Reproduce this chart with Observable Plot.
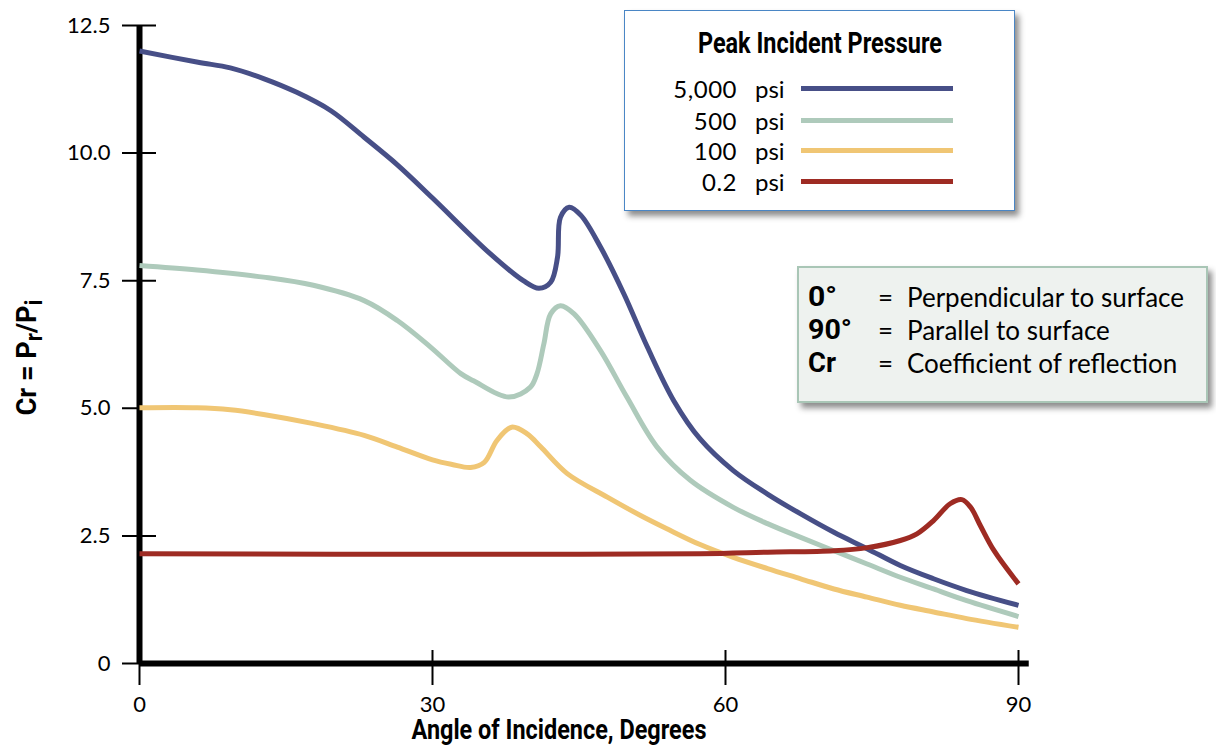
<!DOCTYPE html>
<html>
<head>
<meta charset="utf-8">
<script src="https://cdn.jsdelivr.net/npm/d3@7"></script>
<script src="https://cdn.jsdelivr.net/npm/@observablehq/plot@0.6"></script>
<style>
  html, body { margin: 0; padding: 0; background: #fff; }
  #wrap { position: relative; width: 1216px; height: 754px; overflow: hidden; font-family: Lato, "Open Sans", sans-serif; color: #000; }
  #chart svg { display: block; }
  .cond { font-family: Roboto, "Liberation Sans", sans-serif; font-weight: 700; display: inline-block; }
  #legend1 { position: absolute; left: 624px; top: 10px; width: 391px; height: 201px; box-sizing: border-box;
             background: #fff; border: 1.5px solid #4a86c5; box-shadow: 4px 5px 6px rgba(0,0,0,0.45); }
  #legend2 { position: absolute; left: 797px; top: 266px; width: 411px; height: 137px; box-sizing: border-box;
             background: #eef2ef; border: 2.5px solid #a9c6b6; box-shadow: 4px 5px 6px rgba(0,0,0,0.45); }
  .abs { position: absolute; white-space: nowrap; }
</style>
</head>
<body>
<div id="wrap">
  <div id="chart"></div>
  <div id="legend1"></div>
  <div id="legend2"></div>
</div>
<script>
// ---- Data ----
const seriesNames = ["5,000 psi", "500 psi", "100 psi", "0.2 psi"];
const pressureLabels = ["5,000", "500", "100", "0.2"];
const pressureUnit = "psi";
const seriesColors = ["#474f87", "#aecabb", "#f0c674", "#9e2b23"];

const angles5000 = [0, 6, 9.3, 12.7, 16.1, 19.6, 23.0, 26.4, 30, 35.9, 39.3, 40.9, 42.1, 42.8, 43.1, 44.0, 45.2, 47.2, 49.6, 52.0, 54.7, 57.4, 60.8, 64.3, 67.7, 71.1, 74.5, 77.9, 81.3, 84.7, 90];
const cr5000     = [12.0, 11.78, 11.67, 11.46, 11.19, 10.83, 10.31, 9.77, 9.12, 8.03, 7.50, 7.35, 7.47, 7.96, 8.74, 8.94, 8.78, 8.16, 7.24, 6.20, 5.15, 4.40, 3.78, 3.32, 2.93, 2.57, 2.25, 1.92, 1.66, 1.43, 1.14];

const angles500 = [0, 5.9, 12.7, 17.8, 23.0, 26.4, 29.8, 32.9, 34.2, 37.8, 40.0, 40.7, 41.4, 42.1, 43.1, 44.5, 47.2, 49.9, 53.0, 56.4, 60.8, 64.3, 67.7, 71.1, 74.5, 77.9, 81.3, 84.7, 90];
const cr500     = [7.80, 7.71, 7.57, 7.41, 7.11, 6.72, 6.20, 5.68, 5.54, 5.22, 5.41, 5.68, 6.26, 6.85, 7.01, 6.85, 6.13, 5.22, 4.24, 3.59, 3.06, 2.74, 2.47, 2.21, 1.95, 1.69, 1.46, 1.23, 0.92];

const angles100 = [0, 5.9, 9.3, 12.7, 17.8, 23.0, 26.4, 30, 32, 33.9, 35.3, 36.6, 38.1, 39.7, 41.1, 43.8, 47.9, 51.3, 54.0, 57.4, 60.8, 64.3, 67.7, 71.1, 74.5, 77.9, 81.3, 84.7, 90];
const cr100     = [5.01, 5.01, 4.97, 4.88, 4.70, 4.47, 4.24, 3.99, 3.90, 3.84, 3.94, 4.37, 4.63, 4.50, 4.24, 3.72, 3.26, 2.90, 2.64, 2.33, 2.08, 1.86, 1.66, 1.46, 1.30, 1.14, 1.01, 0.88, 0.71];

const angles02 = [0, 20, 40, 57.4, 64.3, 71.1, 74.5, 77.9, 79.6, 81.3, 83.0, 84.2, 85.1, 86.1, 87.5, 90];
const cr02     = [2.15, 2.14, 2.14, 2.15, 2.18, 2.21, 2.27, 2.41, 2.54, 2.80, 3.13, 3.21, 3.06, 2.70, 2.21, 1.56];

const xTicks = [0, 30, 60, 90];
const xTickLabels = ["0", "30", "60", "90"];
const yTicks = [0, 2.5, 5, 7.5, 10, 12.5];
const yTickLabels = ["0", "2.5", "5.0", "7.5", "10.0", "12.5"];

const xTitle = "Angle of Incidence, Degrees";
const yTitleParts = [["Cr = P", false], ["r", true], ["/P", false], ["i", true]];
const yTitle = yTitleParts.map(p => p[0]).join("");
const legendTitle = "Peak Incident Pressure";
const noteKeys = ["0°", "90°", "Cr"];
const noteTexts = ["Perpendicular to surface", "Parallel to surface", "Coefficient of reflection"];

// ---- Build table ----
const seriesArrays = [[angles5000, cr5000], [angles500, cr500], [angles100, cr100], [angles02, cr02]];
const data = seriesArrays.flatMap(([a, c], k) => a.map((angle, i) => ({series: seriesNames[k], angle, cr: c[i]})));

const condFont = "Roboto, 'Liberation Sans', sans-serif";
const xAxisEnd = 91.1;

const chart = Plot.plot({
  width: 1216,
  height: 754,
  marginLeft: 139,
  marginRight: 198,
  marginTop: 25,
  marginBottom: 91,
  x: {domain: [0, 90]},
  y: {domain: [0, 12.5]},
  color: {domain: seriesNames, range: seriesColors},
  style: {fontFamily: "Lato, 'Open Sans', sans-serif", fontSize: "22px", color: "black", background: "transparent", overflow: "visible"},
  marks: [
    // tick marks crossing the axes
    Plot.axisY(yTicks.slice(1), {tickSize: 34, dx: 17, tickFormat: () => "", strokeWidth: 2, label: null}),
    Plot.axisY([0], {tickSize: 17, tickFormat: () => "", strokeWidth: 2, label: null}),
    Plot.axisY(yTicks, {tickSize: 0, tickPadding: 29, fontSize: 22, tickFormat: d => yTickLabels[yTicks.indexOf(d)], label: null}),
    Plot.axisX(xTicks.slice(1), {tickSize: 35, dy: -13, tickFormat: () => "", strokeWidth: 2, label: null}),
    Plot.axisX([0], {tickSize: 22, tickFormat: () => "", strokeWidth: 2, label: null}),
    Plot.axisX(xTicks, {tickSize: 0, tickPadding: 33, fontSize: 22, tickFormat: d => xTickLabels[xTicks.indexOf(d)], label: null}),
    // heavy axis lines
    Plot.ruleX([0], {y1: 0, y2: 12.5, strokeWidth: 6, stroke: "black"}),
    Plot.ruleY([0], {x1: 0, x2: xAxisEnd, strokeWidth: 6, stroke: "black"}),
    // curves
    Plot.line(data, {x: "angle", y: "cr", z: "series", stroke: "series", strokeWidth: 5, curve: "catmull-rom", strokeLinecap: "butt"}),
    // axis titles
    Plot.text([xTitle], {text: d => d, frameAnchor: "bottom", textAnchor: "middle", dx: -20, dy: 75, fontFamily: condFont, fontWeight: "bold", fontSize: 27}),
    Plot.text([yTitle], {text: d => d, frameAnchor: "left", textAnchor: "middle", dx: -112, dy: 13, rotate: -90, fontFamily: condFont, fontWeight: "bold", fontSize: 28})
  ]
});
document.getElementById("chart").appendChild(chart);

const allText = d3.select(chart).selectAll("text");
// condense the bold titles (the original uses a condensed face)
allText.filter(function () { return this.textContent === xTitle; })
  .attr("textLength", 295).attr("lengthAdjust", "spacingAndGlyphs");

allText.filter(function () { return this.textContent === yTitle; }).each(function () {
  const t = d3.select(this);
  t.text(null);
  let prev = 0;
  yTitleParts.forEach(([s, sub]) => {
    const shift = sub ? 6 : 0;
    t.append("tspan").attr("dy", shift - prev).attr("font-size", sub ? "23px" : null).text(s);
    prev = shift;
  });
  t.attr("textLength", 116).attr("lengthAdjust", "spacingAndGlyphs");
});

function condense(el, target, origin) {
  const w = el.getBoundingClientRect().width;
  if (w > 0) {
    el.style.transform = `scaleX(${target / w})`;
    el.style.transformOrigin = origin;
  }
}

// ---- Legend: Peak Incident Pressure ----
const L1 = document.getElementById("legend1");
const tWrap = document.createElement("div");
tWrap.className = "abs";
tWrap.style.cssText = "left:0;width:100%;text-align:center;top:14px;height:36px;line-height:36px;";
const tSpan = document.createElement("span");
tSpan.className = "cond";
tSpan.style.fontSize = "29px";
tSpan.textContent = legendTitle;
tWrap.appendChild(tSpan);
L1.appendChild(tWrap);
condense(tSpan, 244, "50% 50%");

const rowCenters1 = [79, 111, 141, 172];
pressureLabels.forEach((lab, i) => {
  const c = rowCenters1[i] - 1.5;
  const n = document.createElement("div");
  n.className = "abs";
  n.style.cssText = `left:0;width:112px;text-align:right;top:${c - 16}px;height:32px;line-height:32px;font-size:24px;letter-spacing:0.5px;`;
  n.textContent = lab;
  const u = document.createElement("div");
  u.className = "abs";
  u.style.cssText = `left:130px;top:${c - 16}px;height:32px;line-height:32px;font-size:24px;`;
  u.textContent = pressureUnit;
  const sw = document.createElement("div");
  sw.className = "abs";
  sw.style.cssText = `left:176px;width:152px;top:${c - 2.5}px;height:5px;background:${seriesColors[i]};`;
  L1.appendChild(n); L1.appendChild(u); L1.appendChild(sw);
});

// ---- Legend: definitions ----
const L2 = document.getElementById("legend2");
const rowCenters2 = [29, 62, 95];
const keyWidths = [29, 44, 28];
noteKeys.forEach((k, i) => {
  const c = rowCenters2[i];
  const a = document.createElement("div");
  a.className = "abs";
  a.style.cssText = `left:9px;top:${c - 17}px;height:34px;line-height:34px;`;
  const s = document.createElement("span");
  s.className = "cond";
  s.style.fontSize = "28px";
  s.textContent = k;
  a.appendChild(s);
  const e = document.createElement("div");
  e.className = "abs";
  e.style.cssText = `left:79px;top:${c - 17}px;height:34px;line-height:34px;font-size:26px;`;
  e.textContent = "=";
  const t = document.createElement("div");
  t.className = "abs";
  t.style.cssText = `left:108px;top:${c - 17}px;height:34px;line-height:34px;font-size:26px;`;
  t.textContent = noteTexts[i];
  L2.appendChild(a); L2.appendChild(e); L2.appendChild(t);
  condense(s, keyWidths[i], "0 50%");
});
</script>
</body>
</html>
